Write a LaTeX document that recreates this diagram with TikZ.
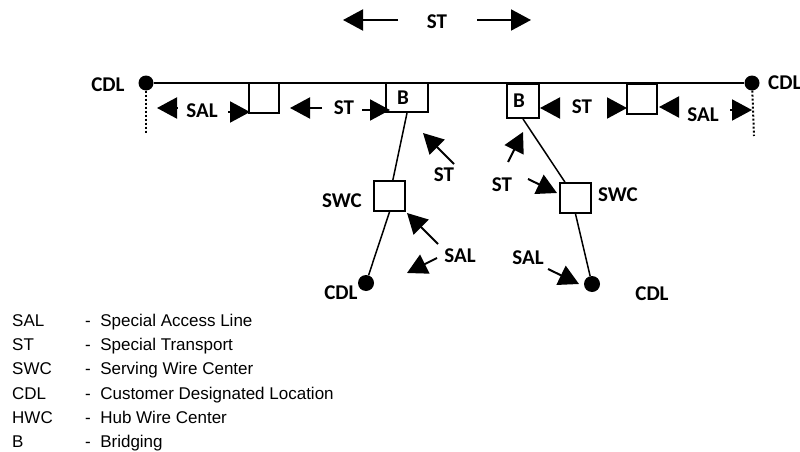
\documentclass[tikz,border=0pt]{standalone}
\usepackage{fontspec}
\setmainfont{Liberation Sans}
\newfontfamily\calfont{Carlito}
\usetikzlibrary{arrows.meta}

\tikzset{
  box/.style={draw, line width=2pt, minimum width=30pt, minimum height=30pt, inner sep=0pt},
  bbox/.style={box, align=left, font=\calfont\bfseries\fontsize{21}{24}\selectfont},
  dot/.style={circle, fill, minimum size=15pt, inner sep=0pt},
  lbl/.style={font=\calfont\bfseries\fontsize{21}{24}\selectfont, inner sep=0pt},
  tri/.style={-{Triangle[length=20pt,width=21pt]}, line width=2pt},
  key/.style={anchor=base west, inner sep=0pt, font=\fontsize{17}{20}\selectfont}
}

\begin{document}
\begin{tikzpicture}[x=1pt,y=-1pt]
\useasboundingbox (0,0) rectangle (800,452);

% customer locations
\node[dot] (cdlA) at (146,83) {};
\node[dot] (cdlB) at (752,83) {};
\node[dot, minimum size=16pt] (cdlC) at (366,283) {};
\node[dot, minimum size=16pt] (cdlD) at (592,284) {};
\coordinate (tailA) at (146,134);
\coordinate (tailB) at (754,136);
\draw[line width=2pt] (cdlA) -- (cdlB);
\draw[line width=2pt, dash pattern=on 2pt off 2pt] (cdlA) -- (tailA);
\draw[line width=2pt, dash pattern=on 2pt off 2pt] (cdlB) -- (tailB);

% boxes
\node[box] (hubA) at (264,97.5) {};
\node[box] (hubB) at (642,99) {};
\node[bbox, minimum width=42pt, minimum height=29pt, inner xsep=11pt, text width=20pt] (brA) at (407,97.5) {B};
\node[bbox, minimum width=32pt, minimum height=34pt, inner xsep=6pt, text width=20pt] (brB) at (523,101) {B};
\node[box, minimum width=31pt] (swcA) at (389.5,196) {};
\node[box, minimum width=31pt] (swcB) at (575.5,198) {};
\draw[line width=1.5pt] (brA.south) -- (swcA);
\draw[line width=1.5pt] (swcA.south) -- (cdlC);
\draw[line width=1.5pt] (brB.south) -- (swcB);
\draw[line width=1.5pt] (swcB.south) -- (cdlD);

% labels
\node[lbl] (stTop) at (437,22) {ST};
\node[lbl] (cdlTA) at (108,85) {CDL};
\node[lbl, anchor=west] (cdlTB) at (768,83) {CDL};
\node[lbl] (salTA) at (202,111) {SAL};
\node[lbl] (stTA) at (344,108) {ST};
\node[lbl] (stTB) at (582,107) {ST};
\node[lbl] (salTB) at (703,115) {SAL};
\node[lbl] (stTC) at (444,175) {ST};
\node[lbl] (swcTA) at (342,201) {SWC};
\node[lbl] (salTC) at (460,256) {SAL};
\node[lbl] (cdlTC) at (341,293) {CDL};
\node[lbl] (stTD) at (502,185) {ST};
\node[lbl] (swcTB) at (618,195) {SWC};
\node[lbl] (salTD) at (528,258) {SAL};
\node[lbl] (cdlTD) at (652,294) {CDL};

% arrow ends
\coordinate (a1) at (398,20);  \coordinate (a1t) at (343,20);
\coordinate (a2) at (477,20);  \coordinate (a2t) at (531,20);
\coordinate (a3) at (177,108); \coordinate (a3t) at (157,108);
\coordinate (a4) at (228,112); \coordinate (a4t) at (250,112);
\coordinate (a5) at (322,108); \coordinate (a5t) at (290,108);
\coordinate (a6) at (362,110); \coordinate (a6t) at (390,110);
\coordinate (a7) at (558,108); \coordinate (a7t) at (540,108);
\coordinate (a8) at (607,108); \coordinate (a8t) at (627,108);
\coordinate (a9) at (678,107); \coordinate (a9t) at (659,107);
\coordinate (a10) at (730,110); \coordinate (a10t) at (752,110);
\coordinate (a11) at (454,164); \coordinate (a11t) at (423,133);
\coordinate (a12) at (438,244); \coordinate (a12t) at (407,213);
\coordinate (a13) at (437,258); \coordinate (a13t) at (407,273);
\coordinate (a14) at (508,162); \coordinate (a14t) at (523,132);
\coordinate (a15) at (528,179); \coordinate (a15t) at (557,193);
\coordinate (a16) at (548,269); \coordinate (a16t) at (579,284);
\draw[tri] (a1) -- (a1t);
\draw[tri] (a2) -- (a2t);
\draw[tri] (a3) -- (a3t);
\draw[tri] (a4) -- (a4t);
\draw[tri] (a5) -- (a5t);
\draw[tri] (a6) -- (a6t);
\draw[tri] (a7) -- (a7t);
\draw[tri] (a8) -- (a8t);
\draw[tri] (a9) -- (a9t);
\draw[tri] (a10) -- (a10t);
\draw[tri] (a11) -- (a11t);
\draw[tri] (a12) -- (a12t);
\draw[tri] (a13) -- (a13t);
\draw[tri] (a14) -- (a14t);
\draw[tri] (a15) -- (a15t);
\draw[tri] (a16) -- (a16t);

% legend
\node[key] (k1) at (12,326) {SAL};
\node[key] (k2) at (12,350) {ST};
\node[key] (k3) at (12,374) {SWC};
\node[key] (k4) at (12,399) {CDL};
\node[key] (k5) at (12,423) {HWC};
\node[key] (k6) at (12,447) {B};
\node[key] (d1) at (85,326) {-\ \ Special Access Line};
\node[key] (d2) at (85,350) {-\ \ Special Transport};
\node[key] (d3) at (85,374) {-\ \ Serving Wire Center};
\node[key] (d4) at (85,399) {-\ \ Customer Designated Location};
\node[key] (d5) at (85,423) {-\ \ Hub Wire Center};
\node[key] (d6) at (85,447) {-\ \ Bridging};
\end{tikzpicture}
\end{document}
